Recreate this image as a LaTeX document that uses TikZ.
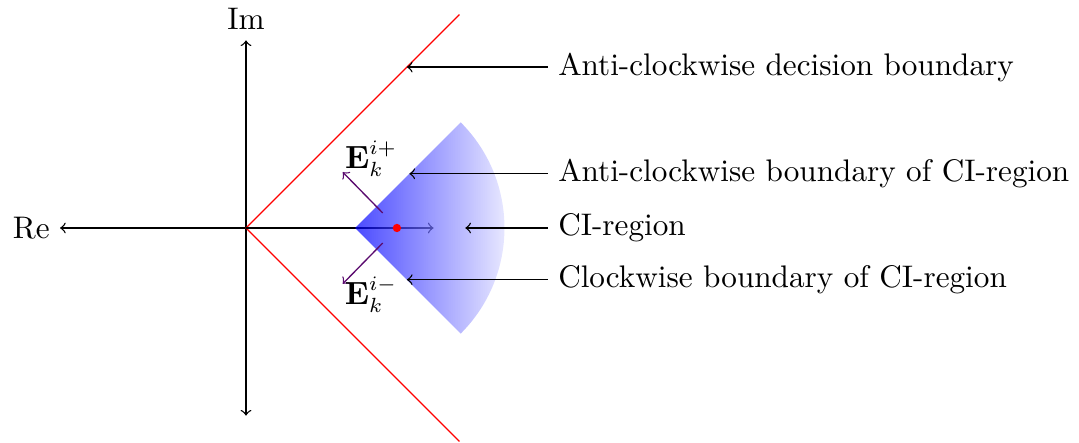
\documentclass[tikz,border=0pt]{standalone}
\usetikzlibrary{positioning, arrows.meta, calc}
\definecolor{boundaryRed}{HTML}{FF0000}
\definecolor{regionBlue}{HTML}{0000FF}
\definecolor{normalViolet}{HTML}{5A0A6E}

\begin{document}
\begin{tikzpicture}[>=to, font=\fontsize{10.65}{13}\selectfont, line width=0.45pt]
    \useasboundingbox (-2.95,-2.578) rectangle (9.99,2.734);

    % axes
    \coordinate (O) at (0,0);
    \coordinate (reTip) at (-2.23,0);
    \coordinate (imTop) at (0,2.25);
    \coordinate (imBottom) at (0,-2.25);
    \draw[->] (O) -- (reTip);
    \draw[<->] (imBottom) -- (imTop);
    \node[left] (reLabel) at (reTip) {Re};
    \node[above] (imLabel) at (imTop) {Im};

    % frontières de décision
    \coordinate (upEnd) at (2.56,2.56);
    \coordinate (downEnd) at (2.56,-2.56);
    \draw[boundaryRed] (O) -- (upEnd);
    \draw[boundaryRed] (O) -- (downEnd);

    % direction de référence
    \coordinate (refTip) at (2.25,0);
    \draw[->] (O) -- (refTip);

    % région CI
    \coordinate (apex) at (1.31,0);
    \shade[left color=regionBlue, right color=regionBlue!5, fill opacity=0.7]
      (apex) -- ++(45:1.79) arc[start angle=45, end angle=-45, radius=1.79] -- cycle;
    \fill[boundaryRed] (1.81,0) circle (0.05);

    % normales
    \coordinate (nUpStart) at (1.64,0.18);
    \coordinate (nUpEnd) at (1.16,0.67);
    \coordinate (nDownStart) at (1.64,-0.18);
    \coordinate (nDownEnd) at (1.16,-0.67);
    \draw[->, normalViolet] (nUpStart) -- (nUpEnd);
    \draw[->, normalViolet] (nDownStart) -- (nDownEnd);
    \node (ePlus) at (1.50,0.83) {$\mathbf{E}_k^{i+}$};
    \node (eMinus) at (1.50,-0.80) {$\mathbf{E}_k^{i-}$};

    % légendes
    \foreach \y/\tx/\l in {1.93/1.93/Anti-clockwise decision boundary,
                           0.65/1.96/Anti-clockwise boundary of CI-region,
                           0/2.63/CI-region,
                           -0.62/1.93/Clockwise boundary of CI-region} {
      \coordinate (tip) at (\tx,\y);
      \node[anchor=west] (lbl) at (3.62,\y) {\l};
      \draw[->] (lbl.west) -- (tip);
    }
\end{tikzpicture}
\end{document}
